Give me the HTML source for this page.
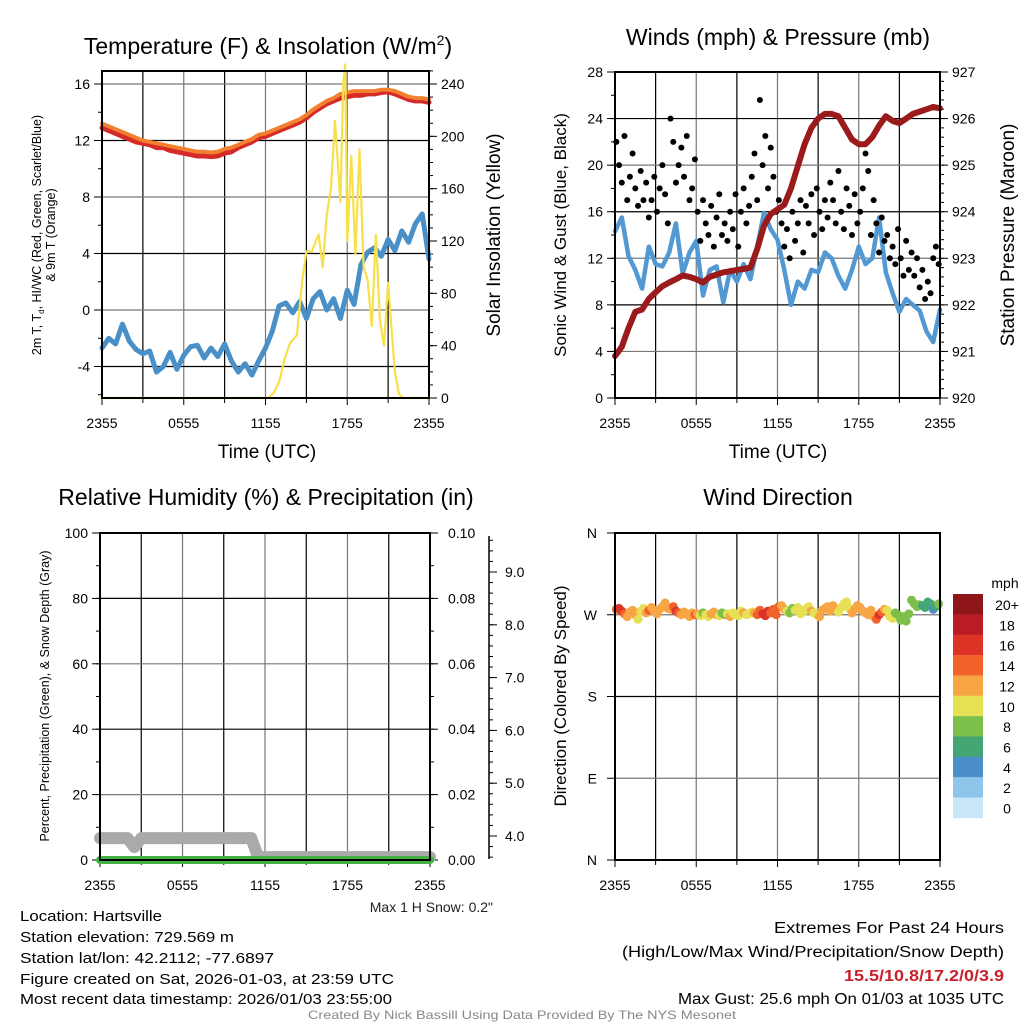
<!DOCTYPE html>
<html><head><meta charset="utf-8"><style>
html,body{margin:0;padding:0;background:#fff}
svg{display:block;font-family:"Liberation Sans",Arial,sans-serif}
</style></head><body>
<svg id="chart" width="1024" height="1024" viewBox="0 0 1024 1024" xmlns="http://www.w3.org/2000/svg">
<rect width="1024" height="1024" fill="#fff"/>
<g id="layer"></g>
<!-- titles -->
<text x="268" y="54" font-size="23" text-anchor="middle">Temperature (F) &amp; Insolation (W/m<tspan font-size="14" dy="-9">2</tspan><tspan dy="9">)</tspan></text>
<text x="778" y="45" font-size="23" text-anchor="middle">Winds (mph) &amp; Pressure (mb)</text>
<text x="266" y="505" font-size="23" text-anchor="middle">Relative Humidity (%) &amp; Precipitation (in)</text>
<text x="778" y="505" font-size="23" text-anchor="middle">Wind Direction</text>
<!-- axis titles -->
<text x="267" y="458" font-size="19" text-anchor="middle">Time (UTC)</text>
<text x="778" y="458" font-size="19" text-anchor="middle">Time (UTC)</text>
<text transform="translate(41,235) rotate(-90)" font-size="12.5" text-anchor="middle">2m T, T<tspan font-size="8" dy="3">d</tspan><tspan dy="-3">, HI/WC (Red, Green, Scarlet/Blue)</tspan></text>
<text transform="translate(55,235) rotate(-90)" font-size="12.5" text-anchor="middle">&amp; 9m T (Orange)</text>
<text transform="translate(500,235) rotate(-90)" font-size="19" text-anchor="middle">Solar Insolation (Yellow)</text>
<text transform="translate(566,235) rotate(-90)" font-size="17" text-anchor="middle">Sonic Wind &amp; Gust (Blue, Black)</text>
<text transform="translate(1014,235) rotate(-90)" font-size="19" text-anchor="middle">Station Pressure (Maroon)</text>
<text transform="translate(49,696) rotate(-90)" font-size="12.5" text-anchor="middle">Percent, Precipitation (Green), &amp; Snow Depth (Gray)</text>
<text transform="translate(566,696) rotate(-90)" font-size="17" text-anchor="middle">Direction (Colored By Speed)</text>
<text x="493" y="912" font-size="14" text-anchor="end" fill="#222">Max 1 H Snow: 0.2"</text>
<!-- footer -->
<g font-size="14.5" fill="#000">
<text x="20" y="921" textLength="142" lengthAdjust="spacingAndGlyphs">Location: Hartsville</text>
<text x="20" y="942" textLength="214" lengthAdjust="spacingAndGlyphs">Station elevation: 729.569 m</text>
<text x="20" y="963" textLength="254" lengthAdjust="spacingAndGlyphs">Station lat/lon: 42.2112; -77.6897</text>
<text x="20" y="984" textLength="374" lengthAdjust="spacingAndGlyphs">Figure created on Sat, 2026-01-03, at 23:59 UTC</text>
<text x="20" y="1004" textLength="372" lengthAdjust="spacingAndGlyphs">Most recent data timestamp: 2026/01/03 23:55:00</text>
<text x="1004" y="933" text-anchor="end" font-size="15.5" textLength="230" lengthAdjust="spacingAndGlyphs">Extremes For Past 24 Hours</text>
<text x="1004" y="957" text-anchor="end" font-size="15.5" textLength="382" lengthAdjust="spacingAndGlyphs">(High/Low/Max Wind/Precipitation/Snow Depth)</text>
<text x="1004" y="981" text-anchor="end" font-size="15.5" font-weight="bold" fill="#c8202a" textLength="160" lengthAdjust="spacingAndGlyphs">15.5/10.8/17.2/0/3.9</text>
<text x="1004" y="1004" text-anchor="end" font-size="15.5" textLength="326" lengthAdjust="spacingAndGlyphs">Max Gust: 25.6 mph On 01/03 at 1035 UTC</text>
</g>
<text x="522" y="1019" text-anchor="middle" font-size="12" fill="#888" textLength="428" lengthAdjust="spacingAndGlyphs">Created By Nick Bassill Using Data Provided By The NYS Mesonet</text>
</svg>
<script>
// ---- data ----
const xTickLabels = ["2355","0555","1155","1755","2355"];
const tempRed = [12.9,12.7,12.5,12.3,12.1,11.9,11.8,11.7,11.5,11.5,11.3,11.2,11.1,11.0,10.9,10.9,10.85,10.9,11.1,11.2,11.5,11.7,11.9,12.2,12.3,12.5,12.7,12.9,13.1,13.3,13.6,14.0,14.3,14.6,14.8,15.0,15.1,15.2,15.2,15.3,15.3,15.4,15.45,15.3,15.1,14.9,14.8,14.8,14.7];
const temp9m = [13.2,13.0,12.8,12.6,12.4,12.2,12.0,11.9,11.8,11.7,11.6,11.5,11.4,11.3,11.2,11.2,11.15,11.2,11.4,11.5,11.7,11.9,12.1,12.4,12.5,12.7,12.9,13.1,13.3,13.5,13.8,14.2,14.5,14.8,15.0,15.3,15.4,15.5,15.5,15.5,15.5,15.6,15.6,15.5,15.3,15.1,15.0,15.0,14.9];
const dewpoint = [-2.7,-2.0,-2.4,-1.0,-2.2,-2.8,-3.1,-2.9,-4.4,-4.0,-3.0,-4.2,-3.2,-2.6,-2.5,-3.4,-2.7,-3.3,-2.4,-3.6,-4.4,-3.8,-4.6,-3.6,-2.7,-1.5,0.3,0.5,-0.2,0.6,-0.6,0.8,1.3,0.0,0.8,-0.6,1.4,0.4,3.2,4.1,4.4,3.8,5.0,4.2,5.6,4.8,6.1,6.8,3.6];
const solarTime = [0,12.2,12.6,13.0,13.4,13.8,14.3,14.7,15.0,15.4,15.7,15.9,16.2,16.5,16.8,17.1,17.3,17.5,17.7,17.85,18.0,18.3,18.6,18.9,19.2,19.5,19.8,20.1,20.4,20.7,21.0,21.2,21.5,21.8,22.1,24];
const solarWatts = [0,0,4,12,30,42,48,90,112,112,120,125,100,140,160,212,180,150,240,255,120,185,110,190,100,90,55,125,60,40,88,60,20,3,0,0];
const windSpeed = [14.3,15.5,12.2,11,9.4,13,11.5,11.3,12.5,15,10.7,12.5,13.5,8.8,11,11.3,8.2,11,10,11.5,10.2,13,15.9,14.5,13.6,11,8.0,10,9.4,11,10.8,12.5,12,10.5,9.4,11,13,11.5,12,15.5,10.8,9,7.4,8.5,8,7.5,5.7,4.8,7.6];
const pressure = [920.9,921.1,921.5,921.85,921.9,922.13,922.27,922.4,922.48,922.55,922.63,922.6,922.55,922.48,922.6,922.65,922.7,922.72,922.75,922.77,922.8,923.2,923.7,923.95,924.05,924.15,924.5,924.98,925.45,925.8,926.0,926.1,926.1,926.05,925.8,925.55,925.45,925.45,925.6,925.85,926.05,925.95,925.9,926.0,926.1,926.15,926.2,926.25,926.22];
const gusts = [22,20,18.5,22.5,17,19,21,18,16.5,19.5,17,18.5,15.5,17,19,16,18,20,17.5,15,24,22,18.5,20,21.5,19,22.5,17,18,20.5,16,13.5,17,15,14,16.5,13,15.5,17.5,14,15,13.5,16,14.5,17.5,13,16,18,15,16.5,19,21,17,25.6,20,22.5,18,21.5,19,16,17,15,13,14.5,12,16,13.5,15,17,12.5,16.5,15,17.5,14,18,16,14.5,17,15.5,18.5,17,15,19.5,16,14.5,18,16.5,14,17.5,15,16,18,21,19.5,14,17,15,12.5,15.5,13.5,14,12,13,11.5,14.5,12,10.5,13.5,11,12.5,10.5,12,9.5,11,8.5,10,9,12,13,11.5];
const direction = [276,277,274,271,268,273,275,270,265,274,277,272,275,278,274,271,276,279,283,277,276,279,274,272,270,273,271,268,272,270,271,269,272,270,268,271,273,270,269,272,270,271,268,272,270,269,274,272,270,271,273,272,270,275,271,269,274,272,276,270,279,280,276,274,272,277,275,278,271,273,276,279,274,272,270,268,275,277,279,274,280,276,273,278,282,284,277,272,276,280,278,274,272,270,275,268,265,270,273,276,275,268,266,272,270,264,268,263,271,286,282,279,281,280,278,284,282,276,279,282];
const precip = [0,0,0,0,0,0,0,0,0,0,0,0,0];
const snowDepth = [3.96,3.96,3.96,3.96,3.96,3.79,3.96,3.96,3.96,3.96,3.96,3.96,3.96,3.96,3.96,3.96,3.96,3.96,3.96,3.96,3.96,3.96,3.96,3.6,3.6,3.6,3.6,3.6,3.6,3.6,3.6,3.6,3.6,3.6,3.6,3.6,3.6,3.6,3.6,3.6,3.6,3.6,3.6,3.6,3.6,3.6,3.6,3.6,3.6];
const speedBins = ["20+","18","16","14","12","10","8","6","4","2","0"];
const speedColors = ["#8e1518","#b91c24","#dd3427","#f0622a","#f8a544","#e6e055","#7cc04a","#45a675","#4a8fc7","#8ec5ea","#c8e6f8"];

const NS="http://www.w3.org/2000/svg";
const layer=document.getElementById('layer');
function mk(tag,attrs,parent){const e=document.createElementNS(NS,tag);for(const k in attrs)e.setAttribute(k,attrs[k]);(parent||layer).appendChild(e);return e;}
function lin(d0,d1,r0,r1){return v=>r0+(v-d0)/(d1-d0)*(r1-r0);}

function frame(p){
  for(let h=3;h<24;h+=3){const x=p.x(h);
    const g=mk('line',{x1:x,x2:x,y1:p.top,y2:p.bot,stroke:h%6?'#000':'#777','stroke-width':1.2});
    
    }
  for(let h=0;h<=24;h+=1){const x=p.x(h);const len=h%6===0?7:(h%3===0?5:0);if(!len)continue;
    mk('line',{x1:x,x2:x,y1:p.bot,y2:p.bot+len,stroke:'#000','stroke-width':1});}
  xTickLabels.forEach((l,i)=>{const t=mk('text',{x:p.x(i*6),y:p.bot+30,'font-size':14,'text-anchor':'middle'});t.textContent=l;
    
    });
}
function border(p){const r=mk('rect',{x:p.left,y:p.top,width:p.right-p.left,height:p.bot-p.top,fill:'none',stroke:'#000','stroke-width':2});
  
  }
function yAxis(p,side,scale,majors,minorStep,lo,hi,fmt,grid,labelOff){
  const ax=side==='l'?p.left:p.right, dir=side==='l'?-1:1;
  majors.forEach((v,i)=>{const y=scale(v);
    if(grid){const g=mk('line',{x1:p.left,x2:p.right,y1:y,y2:y,stroke:i%2?'#777':'#000','stroke-width':1.2});
      
      }
    mk('line',{x1:ax,x2:ax+dir*8,y1:y,y2:y,stroke:'#000','stroke-width':1});
    const t=mk('text',{x:ax+dir*(labelOff||12),y:y+5,'font-size':14,'text-anchor':side==='l'?'end':'start'});t.textContent=fmt(v);
    
    });
  for(let v=lo;v<=hi+1e-9;v+=minorStep){const y=scale(v);mk('line',{x1:ax,x2:ax+dir*4,y1:y,y2:y,stroke:'#000','stroke-width':1});}
}
function poly(xs,ys,attrs,name){const pts=xs.map((x,i)=>x.toFixed(1)+','+ys[i].toFixed(1)).join(' ');
  const e=mk('polyline',Object.assign({points:pts,fill:'none','stroke-linejoin':'round','stroke-linecap':'round'},attrs));
  
  return e;}
const hrs=arr=>arr.map((_,i)=>i*24/(arr.length-1));

// ---- panel 1 ----
const P1={left:102,right:429,top:71,bot:398}; P1.x=lin(0,24,P1.left,P1.right);
const t1=lin(0,16,310,84), s1=lin(0,240,398,84);
frame(P1);
yAxis(P1,'l',t1,[-4,0,4,8,12,16],2,-6,16,v=>v,true);
yAxis(P1,'r',s1,[0,40,80,120,160,200,240],10,0,250,v=>v,false);
poly(hrs(tempRed).map(P1.x),tempRed.map(t1),{stroke:'#d62a28','stroke-width':5},'temperature-2m-line');
poly(hrs(temp9m).map(P1.x),temp9m.map(t1),{stroke:'#f2802f','stroke-width':4},'temperature-9m-line');
poly(hrs(dewpoint).map(P1.x),dewpoint.map(t1),{stroke:'#4a90c8','stroke-width':5},'dewpoint-line');
poly(solarTime.map(P1.x),solarWatts.map(v=>Math.max(s1(v),64)),{stroke:'#f7e04a','stroke-width':2.2},'solar-insolation-line');
border(P1);

// ---- panel 2 ----
const P2={left:615,right:940,top:72,bot:398}; P2.x=lin(0,24,P2.left,P2.right);
const w2=lin(0,28,398,72), pr2=lin(920,927,398,72);
frame(P2);
yAxis(P2,'l',w2,[0,4,8,12,16,20,24,28],2,0,28,v=>v,true);
yAxis(P2,'r',pr2,[920,921,922,923,924,925,926,927],0.2,920,927,v=>v,false);
poly(hrs(windSpeed).map(P2.x),windSpeed.map(w2),{stroke:'#5299d3','stroke-width':4.5},'sonic-wind-line');
gusts.forEach((g,i)=>{const c=mk('circle',{cx:P2.x(i*24/gusts.length+0.1),cy:w2(g),r:3,fill:'#000'});
  
  });
poly(hrs(pressure).map(P2.x),pressure.map(pr2),{stroke:'#9b1a1c','stroke-width':6},'pressure-line');
border(P2);

// ---- panel 3 ----
const P3={left:100,right:430,top:533,bot:860}; P3.x=lin(0,24,P3.left,P3.right);
const rh3=lin(0,100,860,533), pc3=lin(0,0.1,860,533), sd3=lin(4,9,836,572);
frame(P3);
yAxis(P3,'l',rh3,[0,20,40,60,80,100],10,0,100,v=>v,true);
yAxis(P3,'r',pc3,[0,0.02,0.04,0.06,0.08,0.10],0.01,0,0.1,v=>v.toFixed(2),false,18);
{const ax=489;const l=mk('line',{x1:ax,x2:ax,y1:536,y2:859,stroke:'#000','stroke-width':1.5});
 
 
 for(let v=3.6;v<=9.6;v+=0.2){mk('line',{x1:ax,x2:ax+4,y1:sd3(v),y2:sd3(v),stroke:'#000'});}
 [4,5,6,7,8,9].forEach(v=>{mk('line',{x1:ax,x2:ax+8,y1:sd3(v),y2:sd3(v),stroke:'#000'});
  const t=mk('text',{x:505,y:sd3(v)+5,'font-size':14});t.textContent=v.toFixed(1);
  
  });}
poly(hrs(snowDepth).map(P3.x),snowDepth.map(sd3),{stroke:'#aaaaaa','stroke-width':12},'snow-depth-line');
poly(hrs(precip).map(P3.x),precip.map(pc3),{stroke:'#44b046','stroke-width':8},'precipitation-line');
border(P3);

// ---- panel 4 ----
const P4={left:615,right:940,top:533,bot:860}; P4.x=lin(0,24,P4.left,P4.right);
const d4=lin(0,360,860,533);
frame(P4);
yAxis(P4,'l',d4,[0,90,180,270,360],360,0,0,v=>['N','E','S','W','N'][v/90],true,18);
function speedAt(h){const f=h/24*(windSpeed.length-1);const i=Math.min(Math.floor(f),windSpeed.length-2);const t=f-i;return windSpeed[i]*(1-t)+windSpeed[i+1]*t;}
function colorFor(s){let b=Math.floor(s/2);b=Math.max(0,Math.min(10,b));return speedColors[10-b];}
direction.forEach((d,i)=>{const h=i*24/direction.length+0.1;const c=mk('circle',{cx:P4.x(h),cy:d4(d),r:4.5,fill:colorFor(speedAt(h)+1)});
  
  });
border(P4);
speedBins.forEach((lab,i)=>{const y=594+i*20.35;
  const r=mk('rect',{x:953,y:y,width:30,height:20.6,fill:speedColors[i]});
  
  
  const t=mk('text',{x:1007,y:y+16,'font-size':14,'text-anchor':'middle'});t.textContent=lab;
  
  });
{const t=mk('text',{x:1005,y:588,'font-size':14,'text-anchor':'middle'});t.textContent='mph';
 
 }
</script>
</body></html>
